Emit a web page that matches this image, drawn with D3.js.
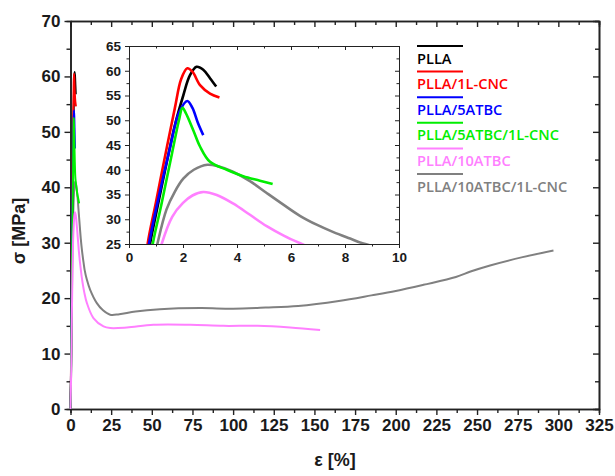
<!DOCTYPE html>
<html>
<head>
<meta charset="utf-8">
<script src="https://cdn.jsdelivr.net/npm/d3@7"></script>
<style>
  body { margin: 0; background: #fff; }
</style>
</head>
<body>
<div id="chart-area"></div>
<script>
// strain [%], stress [MPa]
const PLLA = [[0,0],[0.3,6],[0.55,15],[0.78,25],[1.0,31],[1.39,41.3],[1.7,49],[2.01,55],[2.25,59],[2.5,60.8],[2.75,60.2],[3.0,58.5],[3.23,56.8]]
const PLLA_CNC = [[0,0],[0.25,5],[0.48,15],[0.69,25],[1.0,33.5],[1.4,44.5],[1.7,52.5],[1.93,58.3],[2.16,60.5],[2.35,59.8],[2.63,57.1],[3.0,55.4],[3.35,54.6]]
const PLLA_5 = [[0,0],[0.27,5],[0.5,15],[0.74,25],[1.1,34.5],[1.5,44],[1.85,51.5],[2.16,53.9],[2.35,52.5],[2.55,49.5],[2.75,47.0]]
const PLLA_5_CNC = [[0,0],[0.3,5],[0.6,15],[0.88,25],[1.2,33],[1.6,43.5],[1.85,50],[1.98,52.5],[2.1,51.5],[2.38,48],[2.63,44.7],[3.0,41.6],[3.62,40],[4.23,38.7],[4.85,37.8],[5.32,37.1]]
const PLLA_10 = [[0,0],[0.45,7],[0.85,17],[1.21,25],[1.6,30.5],[2.0,33.3],[2.35,34.8],[2.75,35.5],[3.25,34.9],[3.85,33.2],[4.48,30.9],[5.1,28.6],[5.73,26.7],[6.4,25],[7.0,23.6],[8.5,21],[10.1,19.1],[14.1,16.4],[20.3,14.9],[24.4,14.6],[34.7,14.7],[51,15.2],[73.6,15.2],[94,15.0],[115,15.0],[135,14.7],[153.5,14.25]]
const PLLA_10_CNC = [[0,0],[0.4,7],[0.75,17],[1.05,25],[1.39,32],[1.7,35.6],[2.01,38.2],[2.4,40.0],[2.9,41],[3.3,40.7],[3.85,39.6],[4.48,37.7],[5.1,35.3],[5.73,32.9],[6.33,30.7],[6.95,28.9],[7.57,27.4],[8.19,26.1],[8.68,25.1],[10,23.4],[12.1,21.5],[16.2,19.1],[20,17.8],[24.4,17.0],[30,17.1],[40,17.6],[55,18.0],[80,18.2],[100,18.1],[120,18.3],[140,18.6],[165,19.5],[185,20.5],[200,21.3],[217,22.4],[237,23.8],[246,24.8],[258,25.9],[278,27.4],[297,28.6]]

const names = ['PLLA', 'PLLA/1L-CNC', 'PLLA/5ATBC', 'PLLA/5ATBC/1L-CNC', 'PLLA/10ATBC', 'PLLA/10ATBC/1L-CNC']
const colors = ['#000000', '#ff0000', '#0000ff', '#00ee00', '#ff80ff', '#808080']
const curves = [PLLA, PLLA_CNC, PLLA_5, PLLA_5_CNC, PLLA_10, PLLA_10_CNC]
const drawOrderMain = [5, 0, 1, 2, 3, 4]
const drawOrderInset = [5, 4, 0, 1, 2, 3]

const xTicks = d3.range(0, 326, 25)
const yTicks = d3.range(0, 71, 10)
const xTicksIn = d3.range(0, 11, 2)
const yTicksIn = d3.range(25, 66, 5)

const font = '"Liberation Sans", Arial, sans-serif'

const svg = d3.select('#chart-area').append('svg')
    .attr('width', 615)
    .attr('height', 476)

const x = d3.scaleLinear().domain([0, 325]).range([70.5, 599])
const y = d3.scaleLinear().domain([0, 70]).range([409, 21])

function frame(g, xs, ys, xt, yt, xMinor, yMinor, major, minor, fs) {
    const [x0, x1] = xs.range()
    const [y0, y1] = ys.range()
    const add = (axis, tr) => g.append('g').attr('transform', tr).call(axis)
    // minor ticks
    add(d3.axisBottom(xs).tickValues(xMinor).tickSize(minor).tickFormat(''), `translate(0,${y0})`)
    add(d3.axisLeft(ys).tickValues(yMinor).tickSize(minor).tickFormat(''), `translate(${x0},0)`)
    add(d3.axisTop(xs).tickValues(xMinor).tickSize(-minor).tickFormat(''), `translate(0,${y1})`)
    add(d3.axisRight(ys).tickValues(yMinor).tickSize(-minor).tickFormat(''), `translate(${x1},0)`)
    // major ticks
    add(d3.axisBottom(xs).tickValues(xt).tickSize(major).tickSizeOuter(0).tickPadding(4), `translate(0,${y0})`)
    add(d3.axisLeft(ys).tickValues(yt).tickSize(major).tickSizeOuter(0).tickPadding(4), `translate(${x0},0)`)
    add(d3.axisTop(xs).tickValues(xt).tickSize(-major).tickSizeOuter(0).tickFormat(''), `translate(0,${y1})`)
    add(d3.axisRight(ys).tickValues(yt).tickSize(-major).tickSizeOuter(0).tickFormat(''), `translate(${x1},0)`)
    g.selectAll('.tick text')
        .attr('font-size', fs)
        .attr('font-family', font)
        .attr('font-weight', 'bold')
        .attr('fill', '#1a1a1a')
    g.selectAll('path.domain').attr('stroke', '#222')
    g.selectAll('.tick line').attr('stroke', '#222')
}

const main = svg.append('g')
frame(main, x, y, xTicks, yTicks, d3.range(12.5, 325, 25), d3.range(5, 70, 10), 6, 4, '17px')
main.selectAll('path.domain').attr('stroke-width', 1.6)
main.selectAll('.tick line').attr('stroke-width', 1.4)

const line = d3.line()
    .x(d => x(d[0]))
    .y(d => y(d[1]))
    .curve(d3.curveCatmullRom.alpha(0.5))

main.append('g').selectAll('path')
    .data(drawOrderMain).enter().append('path')
    .attr('d', i => line(curves[i]))
    .attr('fill', 'none')
    .attr('stroke', i => colors[i])
    .attr('stroke-width', 2)

// inset
const xi = d3.scaleLinear().domain([0, 10]).range([129, 399])
const yi = d3.scaleLinear().domain([25, 65]).range([244, 46])

const inset = svg.append('g')
inset.append('rect')
    .attr('x', xi(0)).attr('y', yi(65))
    .attr('width', xi(10) - xi(0)).attr('height', yi(25) - yi(65))
    .attr('fill', '#fff')

svg.append('clipPath').attr('id', 'clip-inset')
    .append('rect')
    .attr('x', xi(0)).attr('y', yi(65))
    .attr('width', xi(10) - xi(0)).attr('height', yi(25) - yi(65))

const lineIn = d3.line()
    .x(d => xi(d[0]))
    .y(d => yi(d[1]))
    .curve(d3.curveCatmullRom.alpha(0.5))

inset.append('g').attr('clip-path', 'url(#clip-inset)')
    .selectAll('path')
    .data(drawOrderInset).enter().append('path')
    .attr('d', i => lineIn(curves[i]))
    .attr('fill', 'none')
    .attr('stroke', i => colors[i])
    .attr('stroke-width', 2.6)

frame(inset, xi, yi, xTicksIn, yTicksIn, d3.range(1, 10, 2), d3.range(27.5, 65, 5), 4, 2.5, '13.5px')
inset.selectAll('path.domain').attr('stroke-width', 1)

// legend
const legend = svg.append('g').attr('transform', 'translate(417, 46)')
const item = legend.selectAll('g')
    .data(names).enter().append('g')
    .attr('transform', (d, i) => `translate(0, ${i * 25.6})`)
item.append('line')
    .attr('x1', 0).attr('x2', 46)
    .attr('stroke', (d, i) => colors[i])
    .attr('stroke-width', 2)
item.append('text')
    .attr('x', 0).attr('y', 17.5)
    .attr('font-family', '"Open Sans", sans-serif')
    .attr('font-weight', 600)
    .attr('font-size', '14.6px')
    .attr('fill', (d, i) => colors[i])
    .text(d => d)

// axis labels
svg.append('text')
    .attr('x', 335)
    .attr('y', 466)
    .attr('font-family', font)
    .attr('font-weight', 'bold')
    .attr('font-size', '18px')
    .attr('text-anchor', 'middle')
    .attr('fill', '#1a1a1a')
    .text('ε [%]')

svg.append('text')
    .attr('transform', 'translate(25, 231) rotate(-90)')
    .attr('font-family', font)
    .attr('font-weight', 'bold')
    .attr('font-size', '18px')
    .attr('text-anchor', 'middle')
    .attr('fill', '#1a1a1a')
    .text('σ [MPa]')
</script>
</body>
</html>
